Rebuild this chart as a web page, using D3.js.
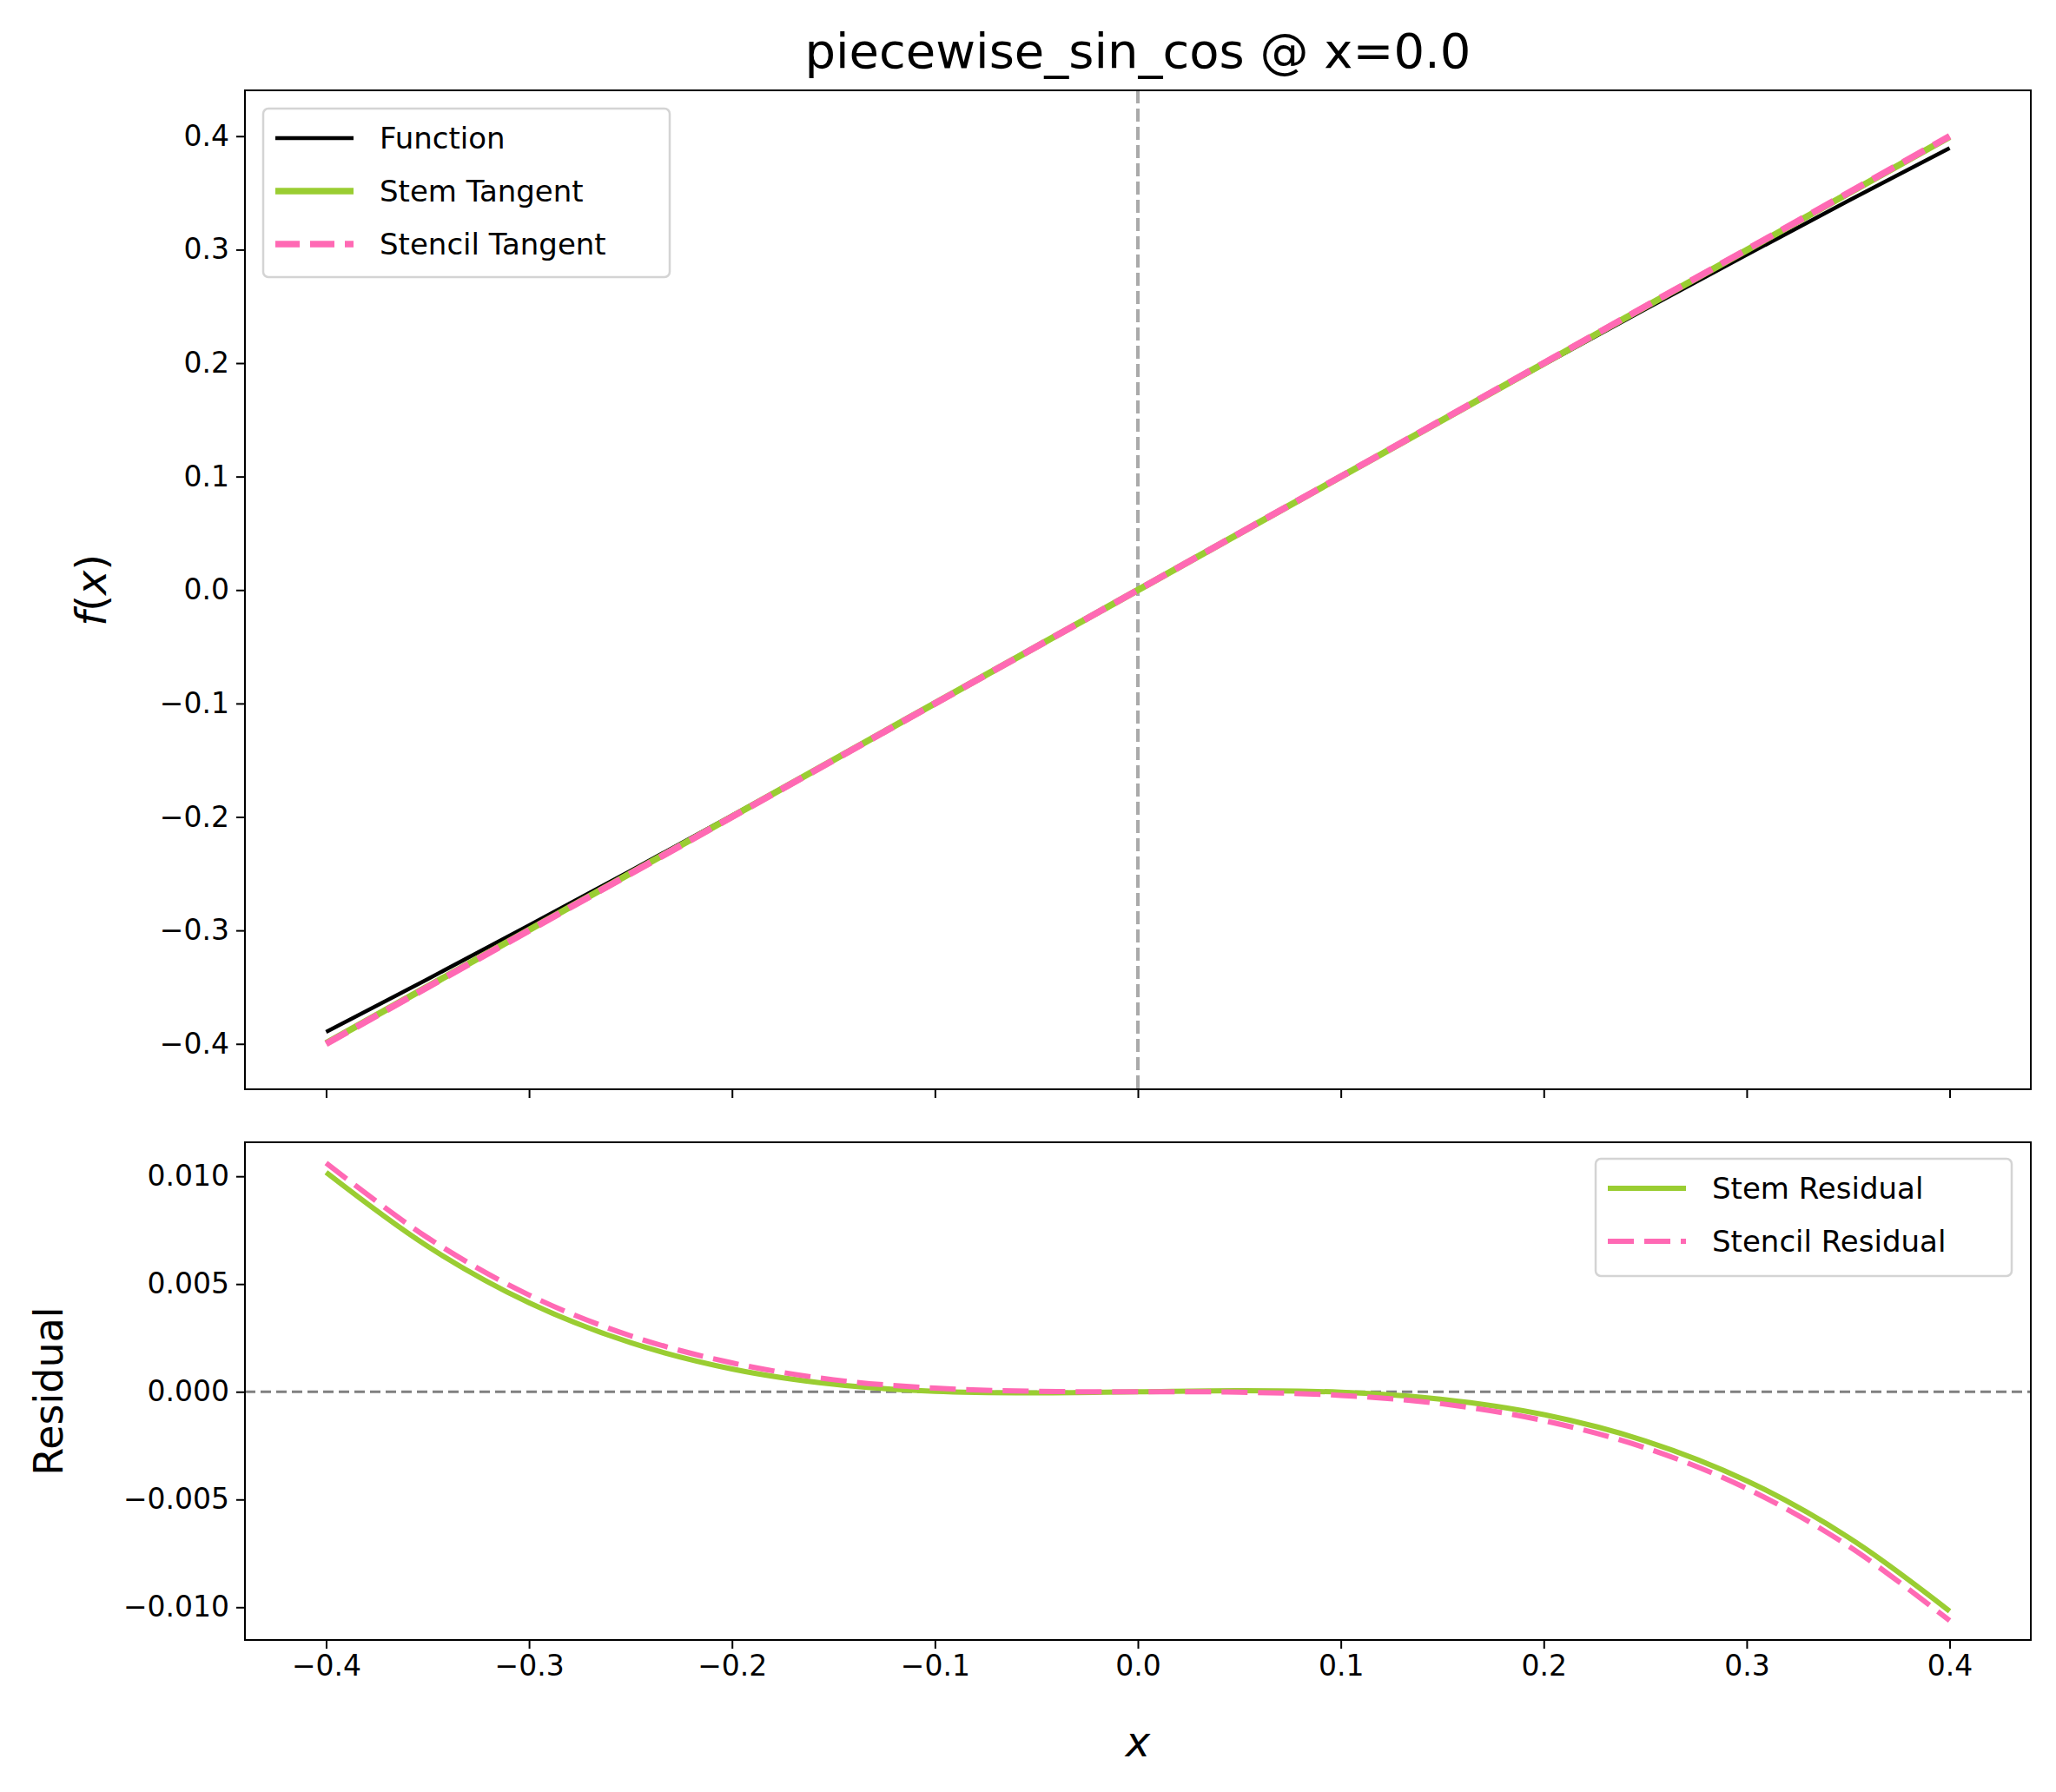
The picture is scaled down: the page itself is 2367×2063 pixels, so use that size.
<!DOCTYPE html>
<meta charset="utf-8">
<style>
body { margin: 0; background: #fff; }
text { font-family: "DejaVu Sans", sans-serif; }
</style>
<body>
<svg id="chart" width="2367" height="2063"></svg>
<script src="https://cdn.jsdelivr.net/npm/d3@7"></script>
<script>
var xs = [-0.4, -0.35, -0.3, -0.25, -0.2, -0.15, -0.1, -0.05, 0, 0.05, 0.1, 0.15, 0.2, 0.25, 0.3, 0.35, 0.4];
var funcVals = [-0.3894, -0.3429, -0.2955, -0.2474, -0.1987, -0.1494, -0.0998, -0.0500, 0, 0.0500, 0.0998, 0.1494, 0.1987, 0.2474, 0.2955, 0.3429, 0.3894];
var tangentX = [-0.4, 0.4];
var stemTangent = [-0.3994, 0.3994];
var stencilTangent = [-0.4, 0.4];
var stemResidual = [0.01018, 0.00675, 0.00413, 0.00228, 0.00106, 0.00035, 0.00002, -0.00005, 0, 0.00005, -0.00002, -0.00035, -0.00106, -0.00228, -0.00413, -0.00675, -0.01018];
var stencilResidual = [0.01062, 0.00715, 0.00449, 0.00260, 0.00134, 0.00056, 0.000167, 0.00002, 0, -0.00002, -0.000167, -0.00056, -0.00134, -0.00260, -0.00449, -0.00715, -0.01062];
var xTicks = [-0.4, -0.3, -0.2, -0.1, 0.0, 0.1, 0.2, 0.3, 0.4];
var topTicks = [-0.4, -0.3, -0.2, -0.1, 0.0, 0.1, 0.2, 0.3, 0.4];
var botTicks = [-0.010, -0.005, 0.000, 0.005, 0.010];

var green = "#9acd32", pink = "#ff69b4";
var svg = d3.select("#chart");
var L = 282, R = 2338;
var top1 = {t: 104, b: 1254}, top2 = {t: 1315, b: 1888};

var x = d3.scaleLinear().domain([-0.44, 0.44]).range([L, R]);
var y1 = d3.scaleLinear().domain([-0.44, 0.4404]).range([top1.b, top1.t]);
var y2 = d3.scaleLinear().domain([-0.01152, 0.01158]).range([top2.b, top2.t]);

function fmt(d, p) { return d3.format("." + p + "f")(d).replace("-", "\u2212"); }

function axes(y, box, yt, prec, showX) {
  var g = svg.append("g");
  g.append("g").attr("transform", "translate(0," + box.b + ")")
    .call(d3.axisBottom(x).tickValues(xTicks).tickSize(10).tickPadding(8)
      .tickFormat(showX ? function(d) { return fmt(d, 1); } : ""));
  g.append("g").attr("transform", "translate(" + L + ",0)")
    .call(d3.axisLeft(y).tickValues(yt).tickSize(10).tickPadding(8)
      .tickFormat(function(d) { return fmt(d, prec); }));
  g.selectAll(".domain").remove();
  g.selectAll(".tick line").attr("stroke", "#000").attr("stroke-width", 2);
  g.selectAll(".tick text").attr("font-size", 33).attr("fill", "#000")
    .style("font-family", "DejaVu Sans");
  return g;
}

function frame(box) {
  svg.append("rect").attr("x", L).attr("y", box.t).attr("width", R - L).attr("height", box.b - box.t)
    .attr("fill", "none").attr("stroke", "#000").attr("stroke-width", 2);
}

function path(xv, yv, y, color, w, dash) {
  var line = d3.line().x(function(d) { return x(d[0]); }).y(function(d) { return y(d[1]); })
    .curve(d3.curveCatmullRom);
  svg.append("path").datum(d3.zip(xv, yv)).attr("d", line)
    .attr("fill", "none").attr("stroke", color).attr("stroke-width", w)
    .attr("stroke-dasharray", dash || null);
}

// top panel
axes(y1, top1, topTicks, 1, false);
svg.append("line").attr("x1", x(0)).attr("x2", x(0)).attr("y1", top1.t).attr("y2", top1.b)
  .attr("stroke", "#aaa").attr("stroke-width", 4).attr("stroke-dasharray", "15,6");
path(xs, funcVals, y1, "#000", 4.5);
path(tangentX, stemTangent, y1, green, 7.5);
path(tangentX, stencilTangent, y1, pink, 7.5, "28,12");
frame(top1);

// bottom panel
axes(y2, top2, botTicks, 3, true);
svg.append("line").attr("x1", L).attr("x2", R).attr("y1", y2(0)).attr("y2", y2(0))
  .attr("stroke", "#808080").attr("stroke-width", 3).attr("stroke-dasharray", "12,6");
path(xs, stemResidual, y2, green, 6);
path(xs, stencilResidual, y2, pink, 6, "30,12");
frame(top2);

function legend(x0, y0, w, h, items) {
  var g = svg.append("g");
  g.append("rect").attr("x", x0).attr("y", y0).attr("width", w).attr("height", h).attr("rx", 6)
    .attr("fill", "#fff").attr("fill-opacity", 0.8).attr("stroke", "#d4d4d4").attr("stroke-width", 2.5);
  items.forEach(function(it, i) {
    var cy = y0 + 34 + i * 61;
    g.append("line").attr("x1", x0 + 14).attr("x2", x0 + 104).attr("y1", cy).attr("y2", cy)
      .attr("stroke", it.c).attr("stroke-width", it.w).attr("stroke-dasharray", it.d || null);
    g.append("text").attr("x", x0 + 134).attr("y", cy + 12).attr("font-size", 34).text(it.t);
  });
}
legend(303, 125, 468, 194, [
  {t: "Function", c: "#000", w: 4.5},
  {t: "Stem Tangent", c: green, w: 7.5},
  {t: "Stencil Tangent", c: pink, w: 7.5, d: "28,12"}
]);
legend(1837, 1334, 479, 135, [
  {t: "Stem Residual", c: green, w: 6},
  {t: "Stencil Residual", c: pink, w: 6, d: "30,12"}
]);

// text
svg.append("text").attr("x", (L + R) / 2).attr("y", 78).attr("text-anchor", "middle")
  .attr("font-size", 56).text("piecewise_sin_cos @ x=0.0");
svg.append("text").attr("x", (L + R) / 2).attr("y", 2022).attr("text-anchor", "middle")
  .attr("font-size", 48).attr("font-style", "italic").text("x");
svg.append("text").attr("transform", "translate(122," + y1(0) + ") rotate(-90)").attr("text-anchor", "middle")
  .attr("font-size", 48).html('<tspan font-style="italic">f</tspan>(<tspan font-style="italic">x</tspan>)');
svg.append("text").attr("transform", "translate(72," + (top2.t + top2.b) / 2 + ") rotate(-90)").attr("text-anchor", "middle")
  .attr("font-size", 46).text("Residual");
</script>
</body>
